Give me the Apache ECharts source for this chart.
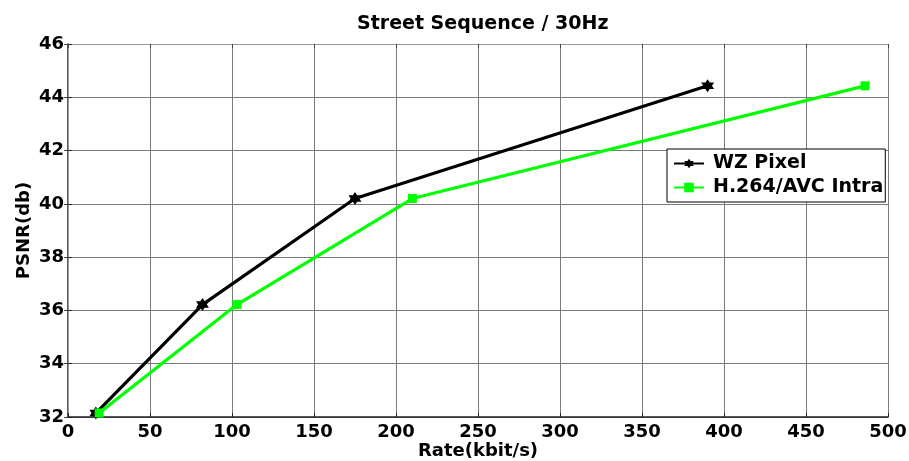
<!DOCTYPE html>
<html>
<head>
<meta charset="utf-8">
<script src="https://cdn.jsdelivr.net/npm/echarts@6/dist/echarts.min.js"></script>
<style>html,body{margin:0;padding:0;background:#fff;}#c{width:909px;height:461px;}</style>
</head>
<body>
<div id="c"></div>
<script>
const seriesNames = ['WZ Pixel', 'H.264/AVC Intra'];
const wzRate = [17, 82, 175, 390];
const wzPsnr = [32.15, 36.22, 40.2, 44.43];
const avcRate = [19, 103, 210, 486];
const avcPsnr = [32.15, 36.22, 40.2, 44.43];
const xTicks = [0, 50, 100, 150, 200, 250, 300, 350, 400, 450, 500];
const yTicks = [32, 34, 36, 38, 40, 42, 44, 46];

const FONT = 'DejaVu Sans';
const starPath = 'path://M0,-10 L2.9,-5 L8.66,-5 L5.8,0 L8.66,5 L2.9,5 L0,10 L-2.9,5 L-8.66,5 L-5.8,0 L-8.66,-5 L-2.9,-5 Z';

const chart = echarts.init(document.getElementById('c'), null, {renderer: 'canvas'});
const gridColor = '#7a7a7a';
chart.setOption({
  animation: false,
  backgroundColor: '#fff',
  textStyle: {fontFamily: FONT},
  title: {
    text: 'Street Sequence / 30Hz',
    left: 352, top: 10,
    textStyle: {fontFamily: FONT, fontWeight: 'bold', fontSize: 19, color: '#000'}
  },
  grid: {left: 68, right: 21, top: 44, bottom: 44, containLabel: false, outerBoundsMode: 'none'},
  legend: {
    orient: 'vertical', left: 667, top: 149,
    backgroundColor: '#fff', borderColor: '#000', borderWidth: 1,
    padding: [5, 2, 5, 6], itemGap: 5, itemWidth: 30, itemHeight: 12,
    textStyle: {fontFamily: FONT, fontWeight: 'bold', fontSize: 19, color: '#000', lineHeight: 19, padding: [0, 0, 0, 4]},
    data: seriesNames
  },
  xAxis: [{
    type: 'value', min: xTicks[0], max: xTicks[xTicks.length - 1], interval: 50,
    name: 'Rate(kbit/s)', nameLocation: 'middle', nameGap: 25, nameMoveOverlap: false,
    nameTextStyle: {fontFamily: FONT, fontWeight: 'bold', fontSize: 18, color: '#000'},
    axisLine: {lineStyle: {color: '#222', width: 1.5}},
    axisTick: {inside: true, length: 4, lineStyle: {color: '#222'}},
    axisLabel: {fontFamily: FONT, fontWeight: 'bold', fontSize: 18, color: '#000', margin: 6},
    splitLine: {show: true, lineStyle: {color: gridColor, width: 1}}
  }, {
    type: 'value', position: 'top', min: xTicks[0], max: xTicks[xTicks.length - 1], interval: 50,
    axisLine: {show: true, lineStyle: {color: '#999', width: 1}},
    axisTick: {inside: true, length: 4, lineStyle: {color: '#444'}},
    axisLabel: {show: false}, splitLine: {show: false}
  }],
  yAxis: [{
    type: 'value', min: yTicks[0], max: yTicks[yTicks.length - 1], interval: 2,
    name: 'PSNR(db)', nameLocation: 'middle', nameGap: 35, nameMoveOverlap: false,
    nameTextStyle: {fontFamily: FONT, fontWeight: 'bold', fontSize: 18, color: '#000'},
    axisLine: {show: true, lineStyle: {color: '#222', width: 1.5}},
    axisTick: {show: true, inside: true, length: 4, lineStyle: {color: '#222'}},
    axisLabel: {fontFamily: FONT, fontWeight: 'bold', fontSize: 18, color: '#000', margin: 4},
    splitLine: {show: true, lineStyle: {color: gridColor, width: 1}}
  }, {
    type: 'value', position: 'right', min: yTicks[0], max: yTicks[yTicks.length - 1], interval: 2,
    axisLine: {show: true, lineStyle: {color: '#999', width: 1}},
    axisTick: {show: true, inside: true, length: 4, lineStyle: {color: '#444'}},
    axisLabel: {show: false}, splitLine: {show: false}
  }],
  series: [{
    name: seriesNames[0], type: 'line',
    data: wzRate.map((r, i) => [r, wzPsnr[i]]),
    symbol: starPath, symbolSize: 13, showSymbol: true,
    lineStyle: {color: '#000', width: 3.2},
    itemStyle: {color: '#000'}
  }, {
    name: seriesNames[1], type: 'line',
    data: avcRate.map((r, i) => [r, avcPsnr[i]]),
    symbol: 'rect', symbolSize: 9, showSymbol: true,
    lineStyle: {color: '#00ff00', width: 3.2},
    itemStyle: {color: '#00ff00'}
  }]
});
</script>
</body>
</html>
